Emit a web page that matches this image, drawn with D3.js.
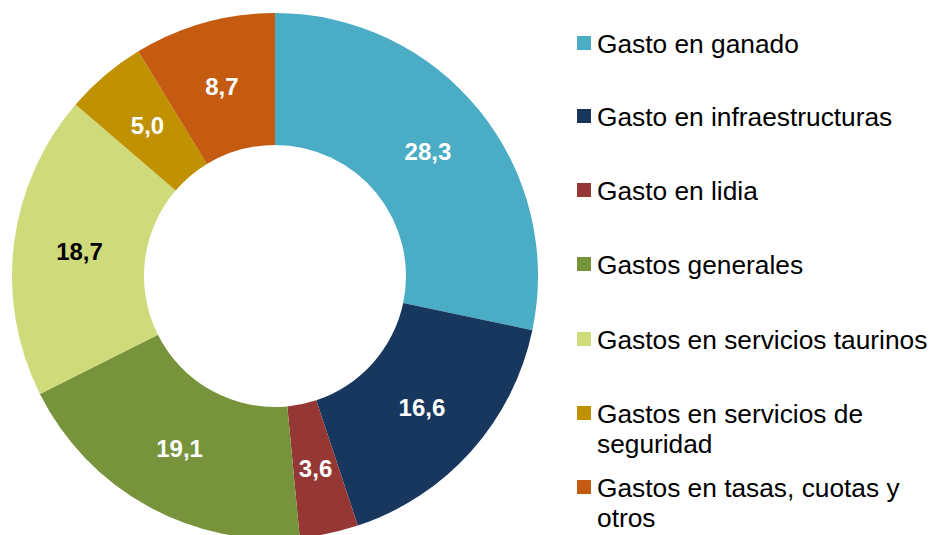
<!DOCTYPE html>
<html>
<head>
<meta charset="utf-8">
<script src="https://cdn.jsdelivr.net/npm/d3@7"></script>
<style>
  body { margin: 0; background: #fff; }
  svg { display: block; font-family: "Liberation Sans", Arial, sans-serif; }
</style>
</head>
<body>
<div id="chart-area"></div>
<script>
// Categories, values and colours
const categories = [
  "Gasto en ganado",
  "Gasto en infraestructuras",
  "Gasto en lidia",
  "Gastos generales",
  "Gastos en servicios taurinos",
  "Gastos en servicios de seguridad",
  "Gastos en tasas, cuotas y otros"
];
const values = [28.3, 16.6, 3.6, 19.1, 18.7, 5.0, 8.7];
const colors = ["#4BACC6", "#17375E", "#953735", "#77933C", "#CFDB7B", "#C09100", "#C55A11"];
// legend lines (wrapped as in the original)
const legendLines = [
  ["Gasto en ganado"],
  ["Gasto en infraestructuras"],
  ["Gasto en lidia"],
  ["Gastos generales"],
  ["Gastos en servicios taurinos"],
  ["Gastos en servicios de", "seguridad"],
  ["Gastos en tasas, cuotas y", "otros"]
];
const legendY = [53, 126, 200, 274, 349, 423, 497];

const width = 933, height = 535;
const cx = 275, cy = 276;
const outerR = 263, innerR = 131;

const svg = d3.select("#chart-area")
  .append("svg")
  .attr("width", width)
  .attr("height", height);

const data = categories.map((c, i) => ({name: c, value: values[i], color: colors[i]}));

const pie = d3.pie()
  .sort(null)
  .value(d => d.value);

const arc = d3.arc()
  .innerRadius(innerR)
  .outerRadius(outerR);

const g = svg.append("g").attr("transform", `translate(${cx},${cy})`);

const arcs = pie(data);

g.selectAll("path.slice")
  .data(arcs)
  .enter()
  .append("path")
  .attr("class", "slice")
  .attr("d", arc)
  .attr("fill", d => d.data.color);

// value labels at slice centroids
const fmt = v => v.toFixed(1).replace(".", ",");
g.selectAll("text.val")
  .data(arcs)
  .enter()
  .append("text")
  .attr("class", "val")
  .attr("x", d => arc.centroid(d)[0])
  .attr("y", d => arc.centroid(d)[1])
  .attr("dy", "0.35em")
  .attr("text-anchor", "middle")
  .attr("font-size", "24px")
  .attr("font-weight", "bold")
  .attr("fill", (d, i) => i === 4 ? "#000" : "#fff")
  .text(d => fmt(d.data.value));

// legend
const legend = svg.append("g").attr("class", "legend");
const items = legend.selectAll("g.item")
  .data(data)
  .enter()
  .append("g")
  .attr("class", "item")
  .attr("transform", (d, i) => `translate(577,${legendY[i]})`);

items.append("rect")
  .attr("x", 0)
  .attr("y", -17)
  .attr("width", 14)
  .attr("height", 14)
  .attr("fill", d => d.color);

items.append("text")
  .attr("x", 20)
  .attr("y", 0)
  .attr("font-size", "26.3px")
  .attr("fill", "#000")
  .each(function(d, i) {
    const t = d3.select(this);
    legendLines[i].forEach((line, j) => {
      t.append("tspan")
        .attr("x", 20)
        .attr("dy", j === 0 ? 0 : 30)
        .text(line);
    });
  });
</script>
</body>
</html>
